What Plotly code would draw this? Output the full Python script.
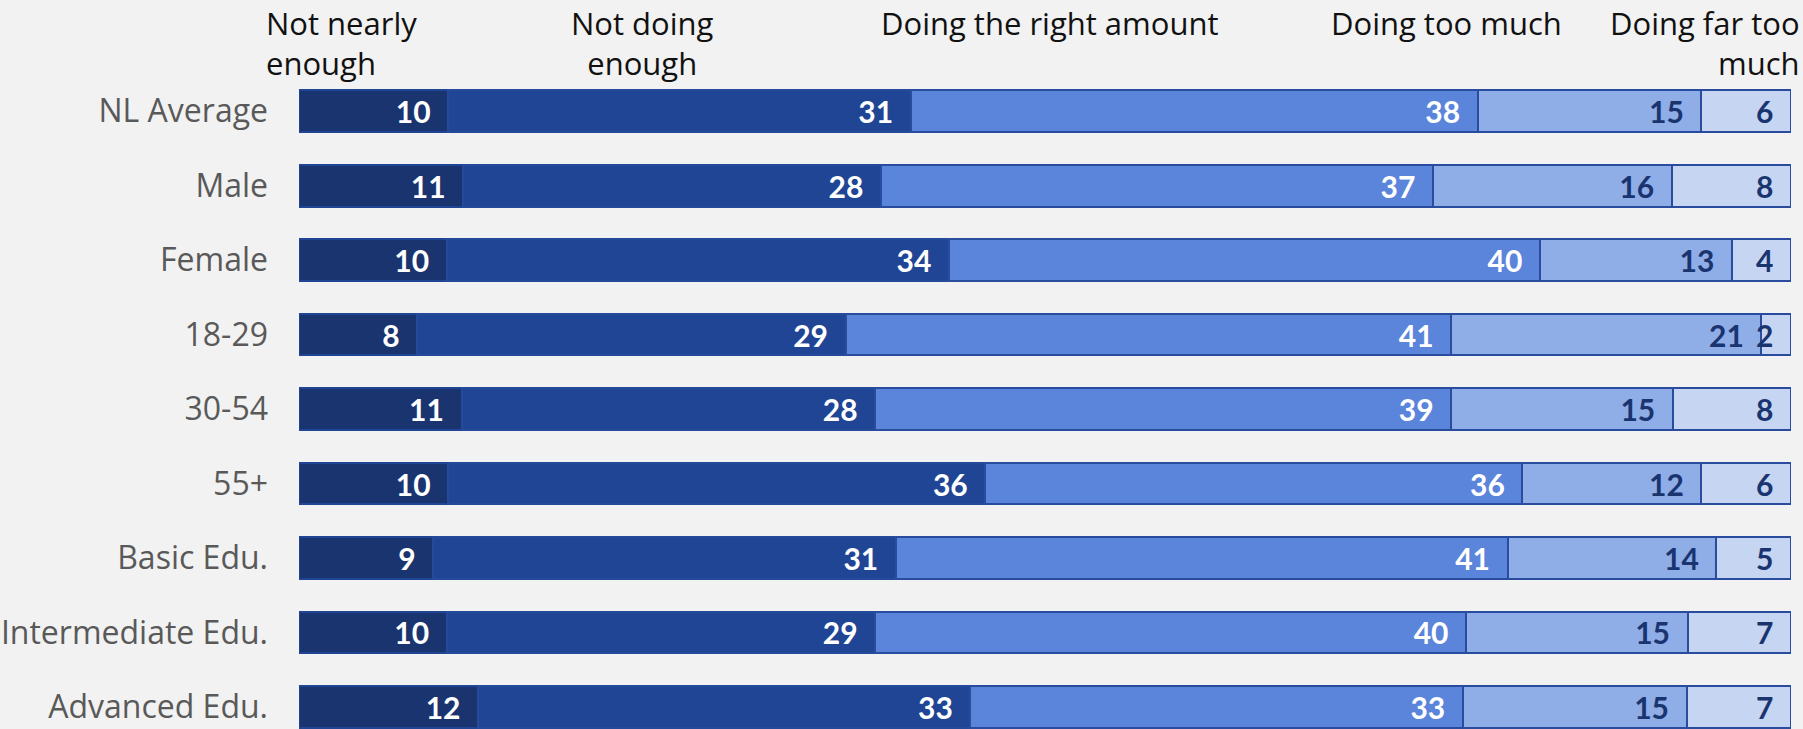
import plotly.graph_objects as go

categories = ["NL Average", "Male", "Female", "18-29", "30-54", "55+",
              "Basic Edu.", "Intermediate Edu.", "Advanced Edu."]
series_names = ["Not nearly enough", "Not doing enough", "Doing the right amount",
                "Doing too much", "Doing far too much"]
not_nearly_enough = [10, 11, 10, 8, 11, 10, 9, 10, 12]
not_doing_enough = [31, 28, 34, 29, 28, 36, 31, 29, 33]
right_amount = [38, 37, 40, 41, 39, 36, 41, 40, 33]
too_much = [15, 16, 13, 21, 15, 12, 14, 15, 15]
far_too_much = [6, 8, 4, 2, 8, 6, 5, 7, 7]

header_labels = ["Not nearly<br>enough", "Not doing<br>enough", "Doing the right amount",
                 "Doing too much", "Doing far too<br>much"]

series = [not_nearly_enough, not_doing_enough, right_amount, too_much, far_too_much]
fills = ["#1a3470", "#1f4594", "#5b84db", "#8fade7", "#c6d5f2"]
text_colors = ["white", "white", "white", "#1a3470", "#1a3470"]
lines = ["#1f4594", "#244a9b", "#2a4c9e", "#2a4c9e", "#2a4c9e"]

fig = go.Figure()
for name, vals, fc, tc, lc in zip(series_names, series, fills, text_colors, lines):
    fig.add_trace(go.Bar(
        y=categories, x=vals, orientation="h", name=name,
        marker=dict(color=fc, line=dict(color=lc, width=2)),
        text=[f"{v}\u00a0\u00a0" for v in vals],
        textposition="inside", insidetextanchor="end", textangle=0,
        textfont=dict(family="Lato", size=30, color=tc, weight="bold"),
        constraintext="none", cliponaxis=False,
    ))

MT = 74
fig.update_layout(
    barmode="stack", barnorm="percent", bargap=0.44,
    width=1803, height=729,
    margin=dict(l=299, r=12, t=MT, b=0),
    paper_bgcolor="#f2f2f2", plot_bgcolor="#f2f2f2",
    showlegend=False,
    uniformtext=dict(minsize=30, mode="show"),
    font=dict(family="Open Sans", size=32, color="#595959"),
)
fig.update_xaxes(range=[0, 100], visible=False, fixedrange=True)
fig.update_yaxes(categoryorder="array", categoryarray=categories,
                 range=[8.297, -0.5], showgrid=False, zeroline=False, showline=False,
                 ticks="", ticklabelstandoff=30,
                 tickfont=dict(family="Open Sans", size=32, color="#595959"))

# header annotations: (x pixel, anchor)
hdr_font = dict(family="Open Sans", size=31, color="#111111")
header_layout = [
    (264, "left"),
    (642, "center"),
    (1049, "center"),
    (1446, "center"),
    (1802, "right"),
]
for lbl, (px, anchor) in zip(header_labels, header_layout):
    fig.add_annotation(
        text=lbl, xref="paper", yref="paper", x=0, y=1,
        xshift=px - 299, yshift=MT,
        xanchor=anchor, yanchor="top", align=anchor,
        showarrow=False, font=hdr_font,
    )

fig.write_html(
    "out.html",
    config={"displayModeBar": False},
    post_script="document.body.style.margin='0';document.body.style.overflow='hidden';"
                "document.body.style.background='#f2f2f2';",
)
